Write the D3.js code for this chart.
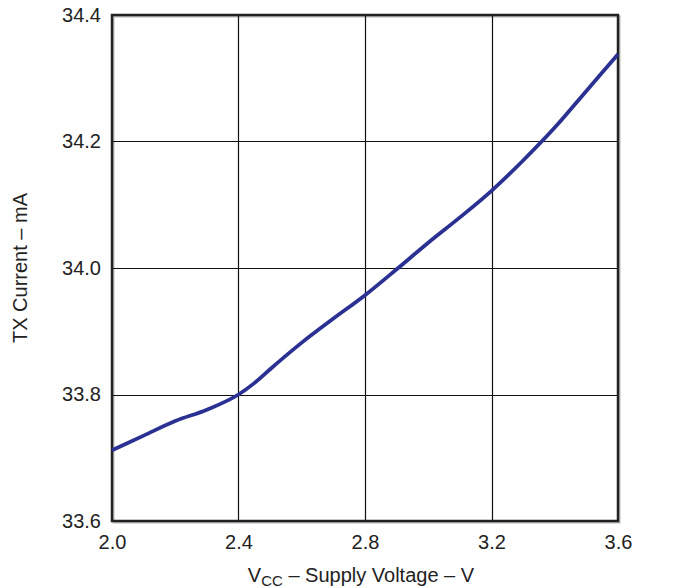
<!DOCTYPE html>
<html>
<head>
<meta charset="utf-8">
<script src="https://cdn.jsdelivr.net/npm/d3@7"></script>
<style>
  html, body { margin: 0; padding: 0; background: #fff; }
  svg { display: block; }
  text { font-family: "Liberation Sans", Arial, Helvetica, sans-serif; fill: #222; }
</style>
</head>
<body>
<svg id="chart" width="674" height="588"></svg>
<script>
// Data
const voltage = [2.0, 2.1, 2.2, 2.3, 2.4, 2.45, 2.5, 2.6, 2.7, 2.8, 2.9, 3.0, 3.1, 3.2, 3.3, 3.4, 3.5, 3.6];
const txCurrent = [33.712, 33.735, 33.758, 33.776, 33.800, 33.818, 33.840, 33.882, 33.920, 33.957, 33.998, 34.040, 34.080, 34.122, 34.170, 34.222, 34.280, 34.338];
const xTicks = [2.0, 2.4, 2.8, 3.2, 3.6];
const yTicks = [33.6, 33.8, 34.0, 34.2, 34.4];

const svg = d3.select("#chart");
const m = { left: 112, top: 15, right: 618, bottom: 521 };

const x = d3.scaleLinear().domain([2.0, 3.6]).range([m.left, m.right]);
const y = d3.scaleLinear().domain([33.6, 34.4]).range([m.bottom, m.top]);

// shadow of frame
svg.append("rect")
  .attr("x", m.left + 1.5).attr("y", m.top + 1.5)
  .attr("width", m.right - m.left).attr("height", m.bottom - m.top)
  .attr("fill", "none").attr("stroke", "#bbb").attr("stroke-width", 2);

// gridlines
const g = svg.append("g");
g.selectAll(".vg").data(xTicks.slice(1, -1)).join("line")
  .attr("x1", d => Math.round(x(d)) + 0.5).attr("x2", d => Math.round(x(d)) + 0.5)
  .attr("y1", m.top).attr("y2", m.bottom)
  .attr("stroke", "#111").attr("stroke-width", 1.2);
g.selectAll(".hg").data(yTicks.slice(1, -1)).join("line")
  .attr("y1", d => Math.round(y(d)) + 0.5).attr("y2", d => Math.round(y(d)) + 0.5)
  .attr("x1", m.left).attr("x2", m.right)
  .attr("stroke", "#111").attr("stroke-width", 1.2);

// frame
svg.append("rect")
  .attr("x", m.left).attr("y", m.top)
  .attr("width", m.right - m.left).attr("height", m.bottom - m.top)
  .attr("fill", "none").attr("stroke", "#222").attr("stroke-width", 2.5);

// axes labels via d3 axes (no domain/ticks lines)
const xAxis = svg.append("g").attr("transform", `translate(0,${m.bottom})`)
  .call(d3.axisBottom(x).tickValues(xTicks).tickFormat(d3.format(".1f")).tickSize(0).tickPadding(14));
xAxis.select(".domain").remove();
xAxis.selectAll("text").style("font-size", "20px").style("font-family", "Liberation Sans, Arial, sans-serif").attr("fill", "#222");

const yAxis = svg.append("g").attr("transform", `translate(${m.left},0)`)
  .call(d3.axisLeft(y).tickValues(yTicks).tickFormat(d3.format(".1f")).tickSize(0).tickPadding(11));
yAxis.select(".domain").remove();
yAxis.selectAll("text").style("font-size", "20px").style("font-family", "Liberation Sans, Arial, sans-serif").attr("fill", "#222");

// line
const line = d3.line().x((d, i) => x(voltage[i])).y(d => y(d)).curve(d3.curveMonotoneX);
svg.append("path").datum(txCurrent)
  .attr("d", line)
  .attr("fill", "none").attr("stroke", "#2b3192").attr("stroke-width", 3.8)
  .attr("stroke-linecap", "butt");

// axis titles
const xt = svg.append("text").attr("x", 361).attr("y", 582)
  .attr("text-anchor", "middle").style("font-size", "20px");
xt.append("tspan").text("V");
xt.append("tspan").text("CC").attr("dy", 4).style("font-size", "15px");
xt.append("tspan").text(" – Supply Voltage – V").attr("dy", -4);

svg.append("text")
  .attr("transform", "translate(27,268) rotate(-90)")
  .attr("text-anchor", "middle").style("font-size", "20px")
  .text("TX Current – mA");
</script>
</body>
</html>
